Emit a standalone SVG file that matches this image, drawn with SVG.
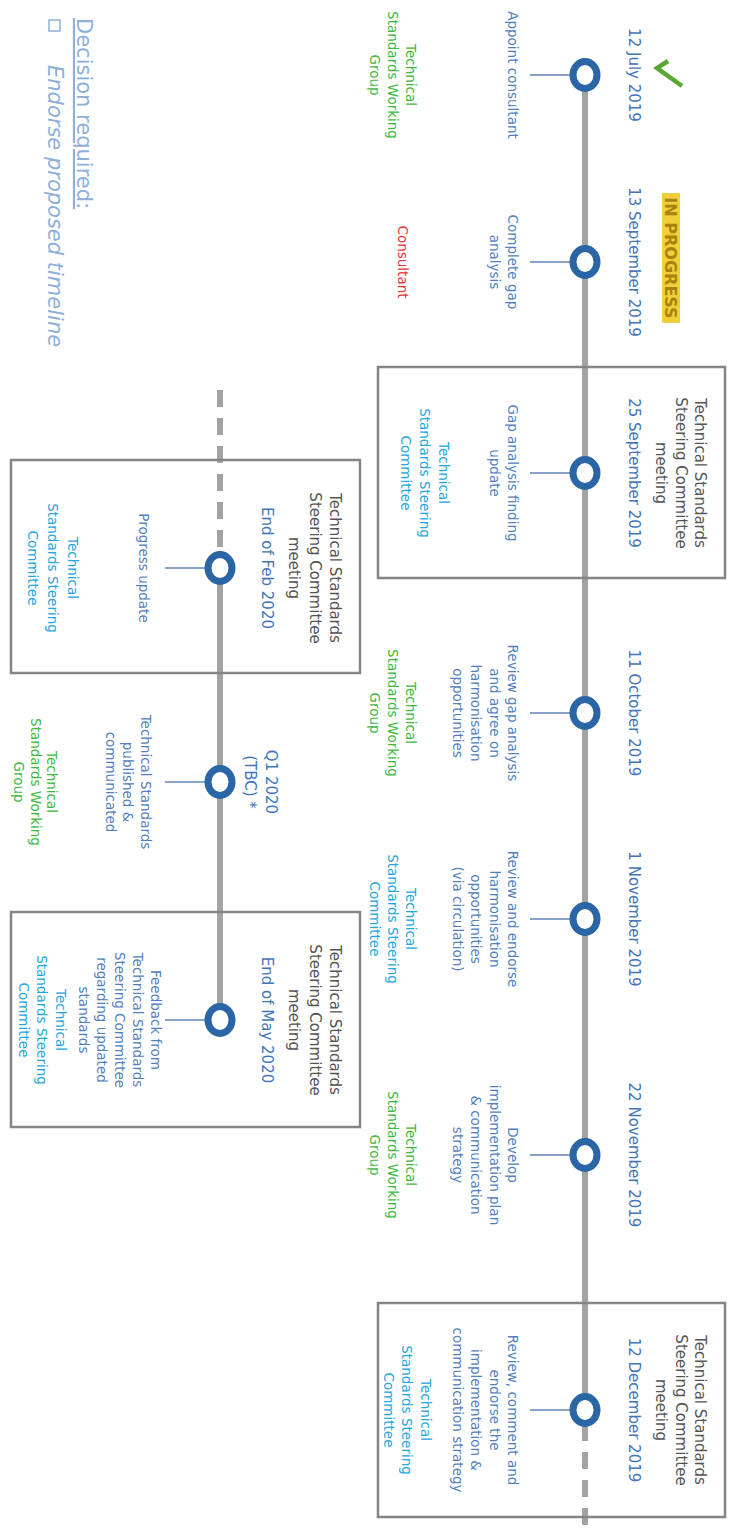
<svg xmlns="http://www.w3.org/2000/svg" width="733" height="1533" viewBox="0 0 733 1533">
<defs>
<style>
text{font-family:"DejaVu Sans","Liberation Sans",sans-serif;text-anchor:middle}
.date{font-size:15px;fill:#4276b9}
.title{font-size:15px;fill:#555}
.desc{font-size:13.5px;fill:#5080bf}
.grn{font-size:13.5px;fill:#3db83d}
.lb{font-size:13.5px;fill:#22a6e2}
.red{font-size:13.5px;fill:#e8342f}
.ring{fill:#fff;stroke:#2a65a5;stroke-width:7}
.tick{stroke:#5f84b8;stroke-width:1.5}
.box{fill:none;stroke:#858585;stroke-width:2.5}
.line{stroke:#a3a3a3;stroke-width:6;fill:none}
.dash{stroke-dasharray:17 11}
.legend{font-size:21px;fill:#8db0da;text-anchor:start}
</style>
</defs>
<rect width="733" height="1533" fill="#fff"/>
<g transform="translate(733,0) rotate(90)">
<g id="connectors">
<line class="line" x1="75" y1="148" x2="1410" y2="148"/>
<line class="line dash" x1="1424" y1="148" x2="1540" y2="148"/>
<line class="line dash" x1="390" y1="513" x2="556" y2="513"/>
<line class="line" x1="568" y1="513" x2="1020" y2="513"/>
</g>

<g id="legend">
<text class="legend" x="18" y="656" text-decoration="underline">Decision required:</text>
<rect x="20" y="673" width="11" height="11" fill="none" stroke="#8db0da" stroke-width="1.5"/>
<text class="legend" x="65" y="685" font-style="italic">Endorse proposed timeline</text>
</g>

<g id="n-12jul">
<path d="M61,65 L68,76 L86,51" fill="none" stroke="#5aa832" stroke-width="4.5" stroke-linejoin="miter"/>
<text class="date" x="75" y="104">12 July 2019</text>
<line class="tick" x1="75" y1="162" x2="75" y2="203"/>
<ellipse class="ring" cx="75" cy="148" rx="13.5" ry="12"/>
<text class="desc" x="75" y="225">Appoint consultant</text>
<text class="grn" x="75" y="327.5"><tspan x="75">Technical</tspan><tspan x="75" dy="18">Standards Working</tspan><tspan x="75" dy="18">Group</tspan></text>
</g>

<g id="n-13sep">
<rect x="193" y="53" width="130" height="18" fill="#f0cf3a"/>
<text x="258" y="68" font-size="16" font-weight="bold" fill="#a8820e">IN PROGRESS</text>
<text class="date" x="262" y="104">13 September 2019</text>
<line class="tick" x1="262" y1="162" x2="262" y2="203"/>
<ellipse class="ring" cx="262" cy="148" rx="13.5" ry="12"/>
<text class="desc" x="262" y="225"><tspan x="262">Complete gap</tspan><tspan x="262" dy="18.5">analysis</tspan></text>
<text class="red" x="262" y="335.5">Consultant</text>
</g>

<g id="n-25sep">
<rect class="box" x="367" y="8" width="211" height="347"/>
<text class="title" x="473" y="38"><tspan x="473">Technical Standards</tspan><tspan x="473" dy="19.5">Steering Committee</tspan><tspan x="473" dy="19.5">meeting</tspan></text>
<text class="date" x="473" y="104">25 September 2019</text>
<line class="tick" x1="473" y1="162" x2="473" y2="203"/>
<ellipse class="ring" cx="473" cy="148" rx="13.5" ry="12"/>
<text class="desc" x="473" y="225"><tspan x="473">Gap analysis finding</tspan><tspan x="473" dy="18.5">update</tspan></text>
<text class="lb" x="473" y="294.5"><tspan x="473">Technical</tspan><tspan x="473" dy="19">Standards Steering</tspan><tspan x="473" dy="19">Committee</tspan></text>
</g>

<g id="n-11oct">
<text class="date" x="713" y="104">11 October 2019</text>
<line class="tick" x1="713" y1="162" x2="713" y2="203"/>
<ellipse class="ring" cx="713" cy="148" rx="13.5" ry="12"/>
<text class="desc" x="713" y="225"><tspan x="713">Review gap analysis</tspan><tspan x="713" dy="18.5">and agree on</tspan><tspan x="713" dy="18.5">harmonisation</tspan><tspan x="713" dy="18.5">opportunities</tspan></text>
<text class="grn" x="713" y="327.5"><tspan x="713">Technical</tspan><tspan x="713" dy="18">Standards Working</tspan><tspan x="713" dy="18">Group</tspan></text>
</g>

<g id="n-1nov">
<text class="date" x="919" y="104">1 November 2019</text>
<line class="tick" x1="919" y1="162" x2="919" y2="203"/>
<ellipse class="ring" cx="919" cy="148" rx="13.5" ry="12"/>
<text class="desc" x="919" y="225"><tspan x="919">Review and endorse</tspan><tspan x="919" dy="18.5">harmonisation</tspan><tspan x="919" dy="18.5">opportunities</tspan><tspan x="919" dy="18.5">(via circulation)</tspan></text>
<text class="lb" x="919" y="327.5"><tspan x="919">Technical</tspan><tspan x="919" dy="18">Standards Steering</tspan><tspan x="919" dy="18">Committee</tspan></text>
</g>

<g id="n-22nov">
<text class="date" x="1155" y="104">22 November 2019</text>
<line class="tick" x1="1155" y1="162" x2="1155" y2="203"/>
<ellipse class="ring" cx="1155" cy="148" rx="13.5" ry="12"/>
<text class="desc" x="1155" y="225"><tspan x="1155">Develop</tspan><tspan x="1155" dy="18.5">implementation plan</tspan><tspan x="1155" dy="18.5">&amp; communication</tspan><tspan x="1155" dy="18.5">strategy</tspan></text>
<text class="grn" x="1155" y="327.5"><tspan x="1155">Technical</tspan><tspan x="1155" dy="18">Standards Working</tspan><tspan x="1155" dy="18">Group</tspan></text>
</g>

<g id="n-12dec">
<rect class="box" x="1303" y="8" width="214" height="347"/>
<text class="title" x="1410" y="38"><tspan x="1410">Technical Standards</tspan><tspan x="1410" dy="19.5">Steering Committee</tspan><tspan x="1410" dy="19.5">meeting</tspan></text>
<text class="date" x="1410" y="104">12 December 2019</text>
<line class="tick" x1="1410" y1="162" x2="1410" y2="203"/>
<ellipse class="ring" cx="1410" cy="148" rx="13.5" ry="12"/>
<text class="desc" x="1410" y="225"><tspan x="1410">Review, comment and</tspan><tspan x="1410" dy="18.5">endorse the</tspan><tspan x="1410" dy="18.5">implementation &amp;</tspan><tspan x="1410" dy="18.5">communication strategy</tspan></text>
<text class="lb" x="1410" y="312.5"><tspan x="1410">Technical</tspan><tspan x="1410" dy="18.5">Standards Steering</tspan><tspan x="1410" dy="18.5">Committee</tspan></text>
</g>

<g id="n-feb2020">
<rect class="box" x="460" y="373" width="213" height="349"/>
<text class="title" x="568" y="403"><tspan x="568">Technical Standards</tspan><tspan x="568" dy="20.5">Steering Committee</tspan><tspan x="568" dy="20.5">meeting</tspan></text>
<text class="date" x="568" y="471">End of Feb 2020</text>
<line class="tick" x1="568" y1="528" x2="568" y2="568"/>
<ellipse class="ring" cx="568" cy="513" rx="13.5" ry="12"/>
<text class="desc" x="568" y="594.5">Progress update</text>
<text class="lb" x="568" y="665.5"><tspan x="568">Technical</tspan><tspan x="568" dy="20">Standards Steering</tspan><tspan x="568" dy="20">Committee</tspan></text>
</g>

<g id="n-q12020">
<text class="date" x="782" y="467"><tspan x="782">Q1 2020</tspan><tspan x="782" dy="21">(TBC) *</tspan></text>
<line class="tick" x1="782" y1="528" x2="782" y2="568"/>
<ellipse class="ring" cx="782" cy="513" rx="13.5" ry="12"/>
<text class="desc" x="782" y="592.5"><tspan x="782">Technical Standards</tspan><tspan x="782" dy="17.5">published &amp;</tspan><tspan x="782" dy="17.5">communicated</tspan></text>
<text class="grn" x="782" y="686"><tspan x="782">Technical</tspan><tspan x="782" dy="16.5">Standards Working</tspan><tspan x="782" dy="16.5">Group</tspan></text>
</g>

<g id="n-may2020">
<rect class="box" x="912" y="373" width="215" height="349"/>
<text class="title" x="1020" y="403"><tspan x="1020">Technical Standards</tspan><tspan x="1020" dy="20.5">Steering Committee</tspan><tspan x="1020" dy="20.5">meeting</tspan></text>
<text class="date" x="1020" y="471">End of May 2020</text>
<line class="tick" x1="1020" y1="528" x2="1020" y2="568"/>
<ellipse class="ring" cx="1020" cy="513" rx="13.5" ry="12"/>
<text class="desc" x="1020" y="582.5"><tspan x="1020">Feedback from</tspan><tspan x="1020" dy="18">Technical Standards</tspan><tspan x="1020" dy="18">Steering Committee</tspan><tspan x="1020" dy="18">regarding updated</tspan><tspan x="1020" dy="18">standards</tspan></text>
<text class="lb" x="1020" y="677.5"><tspan x="1020">Technical</tspan><tspan x="1020" dy="18.5">Standards Steering</tspan><tspan x="1020" dy="18.5">Committee</tspan></text>
</g>
</g>
</svg>
